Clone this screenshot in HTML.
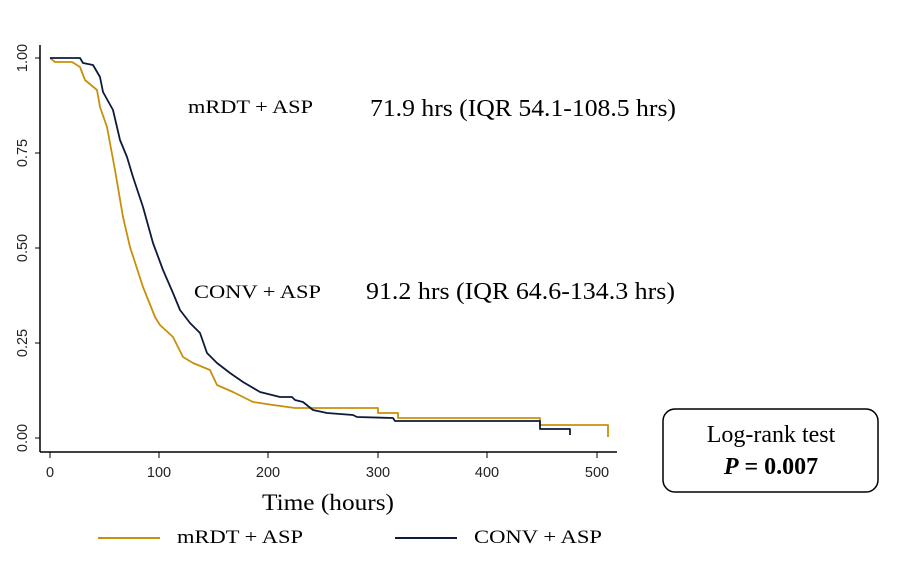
<!DOCTYPE html>
<html><head><meta charset="utf-8"><style>
html,body{margin:0;padding:0;background:#fff;}
svg{display:block;font-family:"Liberation Serif",serif;}
</style></head><body>
<svg width="898" height="573" viewBox="0 0 898 573">
<rect width="898" height="573" fill="#fff"/>
<line x1="40" y1="45" x2="40" y2="452" stroke="#000" stroke-width="1.5"/>
<line x1="40" y1="452" x2="617" y2="452" stroke="#000" stroke-width="1.5"/>
<g stroke="#000" stroke-width="1">
<line x1="35" y1="58" x2="40" y2="58"/><line x1="35" y1="153" x2="40" y2="153"/><line x1="35" y1="248" x2="40" y2="248"/><line x1="35" y1="343" x2="40" y2="343"/><line x1="35" y1="438" x2="40" y2="438"/>
<line x1="50" y1="452" x2="50" y2="458"/><line x1="159" y1="452" x2="159" y2="458"/><line x1="268" y1="452" x2="268" y2="458"/><line x1="378" y1="452" x2="378" y2="458"/><line x1="487" y1="452" x2="487" y2="458"/><line x1="597" y1="452" x2="597" y2="458"/>
</g>
<g font-family="Liberation Sans,sans-serif" font-size="14.5" fill="#222" text-anchor="middle">
<text transform="translate(27,58) rotate(-90)">1.00</text>
<text transform="translate(27,153) rotate(-90)">0.75</text>
<text transform="translate(27,248) rotate(-90)">0.50</text>
<text transform="translate(27,343) rotate(-90)">0.25</text>
<text transform="translate(27,438) rotate(-90)">0.00</text>
<text x="50" y="477">0</text><text x="159" y="477">100</text><text x="268" y="477">200</text><text x="378" y="477">300</text><text x="487" y="477">400</text><text x="597" y="477">500</text>
</g>
<polyline fill="none" stroke="#c8900a" stroke-width="1.8" stroke-linejoin="round" points="50,58 55,62 72,62 80,67 85,80 97,90 100,107 107,127 115,170 123,217 130,247 143,287 155,317 160,325 173,337 183,357 193,363 210,370 217,385 233,392 253,402 273,405 295,408 378,408 378,413 398,413 398,418 540,418 540,425 608,425 608,437"/>
<polyline fill="none" stroke="#0d1a3a" stroke-width="1.8" stroke-linejoin="round" points="50,58 80,58 83,63 93,65 100,77 103,92 113,110 120,140 127,157 133,177 143,207 153,243 163,270 173,293 180,310 190,323 200,333 207,353 217,363 230,373 243,382 260,392 280,397 292,397 295,400 303,402 313,410 327,413 353,415 357,417 393,418 395,421 540,421 540,429 570,429 570,435"/>
<text x="188" y="113" font-size="19" textLength="125" lengthAdjust="spacingAndGlyphs">mRDT + ASP</text>
<text x="370" y="116" font-size="24" textLength="306" lengthAdjust="spacingAndGlyphs">71.9 hrs (IQR 54.1-108.5 hrs)</text>
<text x="194" y="298" font-size="19" textLength="127" lengthAdjust="spacingAndGlyphs">CONV + ASP</text>
<text x="366" y="299" font-size="24" textLength="309" lengthAdjust="spacingAndGlyphs">91.2 hrs (IQR 64.6-134.3 hrs)</text>
<text x="262" y="510" font-size="23" textLength="132" lengthAdjust="spacingAndGlyphs">Time (hours)</text>
<line x1="98" y1="538" x2="160" y2="538" stroke="#c8900a" stroke-width="2"/>
<text x="177" y="543" font-size="19" textLength="126" lengthAdjust="spacingAndGlyphs">mRDT + ASP</text>
<line x1="395" y1="538" x2="457" y2="538" stroke="#0d1a3a" stroke-width="2"/>
<text x="474" y="543" font-size="19" textLength="128" lengthAdjust="spacingAndGlyphs">CONV + ASP</text>
<rect x="663" y="409" width="215" height="83" rx="12" fill="#fff" stroke="#000" stroke-width="1.5"/>
<text x="771" y="442" font-size="24" text-anchor="middle">Log-rank test</text>
<text x="771" y="474" font-size="24" text-anchor="middle" font-weight="bold"><tspan font-style="italic">P</tspan> = 0.007</text>
</svg>
</body></html>
